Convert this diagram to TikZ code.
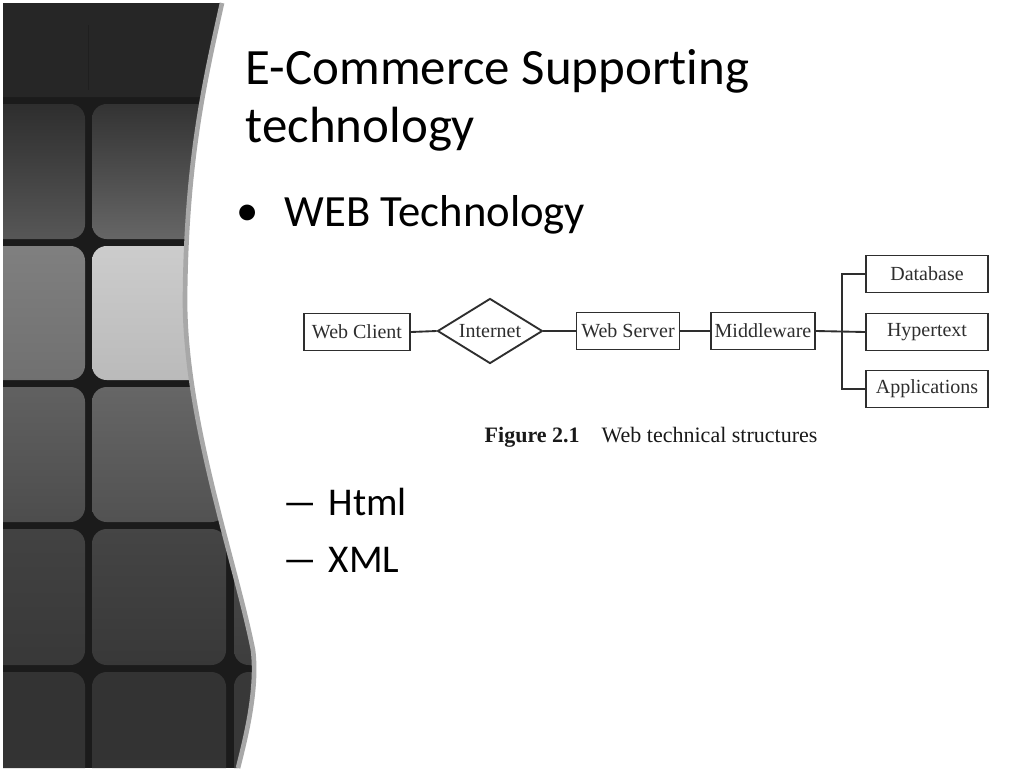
\documentclass[tikz,border=0pt]{standalone}
\usepackage{fontspec}
\setmainfont[Ligatures={NoCommon}]{Carlito}
\newfontfamily\timesfont{Liberation Serif}
\usetikzlibrary{shapes.geometric}
\newdimen\pxu \pxu=0.75pt
\definecolor{diag}{HTML}{2E2E2E}
\definecolor{gapc}{HTML}{1B1B1B}
\definecolor{rimc}{HTML}{A8A8A8}
\begin{document}
\begin{tikzpicture}[x=0.75pt,y=-0.75pt,
  dfont/.style={font=\timesfont\fontsize{15pt}{17pt}\selectfont, text=diag},
  box/.style={draw=diag, line width=1.4pt, minimum width=#1, minimum height=37\pxu, inner sep=0pt, dfont},
  conn/.style={draw=diag, line width=1.4pt},
  tile/.style={rounded corners=11pt},
  title/.style={anchor=base west, font=\fontsize{38.2pt}{45pt}\selectfont},
  body/.style={anchor=base west, font=\fontsize{33.5pt}{38pt}\selectfont},
  sub/.style={anchor=base west, font=\fontsize{29.5pt}{34pt}\selectfont}]
\useasboundingbox (0,0) rectangle (1024,768);
\fill[white] (0,0) rectangle (1024,768);
% left decorative panel
\def\panelpath{(3,3) -- (222,3) .. controls (205,80) and (186,160) .. (185,300) .. controls (185,420) and (235,560) .. (253,650) .. controls (258,690) and (245,740) .. (238,768) -- (3,768) -- cycle}
\begin{scope}
  \clip \panelpath;
  \fill[gapc] (0,0) rectangle (300,768);
  % row 0
  \fill[tile, color=black!85] (-40,-40) rectangle (300,97);
  \draw[black!88, line width=1pt] (88.5,25) -- (88.5,90);
  % row 1
  \shade[tile, top color=black!82, bottom color=black!66] (-40,104) rectangle (85,239);
  \shade[tile, top color=black!80, bottom color=black!60] (92,104) rectangle (226,239);
  % row 2
  \shade[tile, top color=black!50, bottom color=black!56] (-40,246) rectangle (85,380);
  \shade[tile, top color=black!20, bottom color=black!27] (92,246) rectangle (226,380);
  % row 3
  \shade[tile, top color=black!62, bottom color=black!70] (-40,387) rectangle (85,522);
  \shade[tile, top color=black!60, bottom color=black!68] (92,387) rectangle (226,522);
  \shade[tile, top color=black!62, bottom color=black!70] (234,387) rectangle (370,522);
  % row 4
  \shade[tile, top color=black!74, bottom color=black!78] (-40,529) rectangle (85,665);
  \shade[tile, top color=black!73, bottom color=black!78] (92,529) rectangle (226,665);
  \shade[tile, top color=black!70, bottom color=black!76] (234,529) rectangle (370,665);
  % row 5
  \fill[tile, color=black!80] (-40,672) rectangle (85,810);
  \fill[tile, color=black!80] (92,672) rectangle (226,810);
  \fill[tile, color=black!78] (234,672) rectangle (370,810);
\end{scope}
\draw[rimc, line width=3.5pt] (222,3) .. controls (205,80) and (186,160) .. (185,300) .. controls (185,420) and (235,560) .. (253,650) .. controls (258,690) and (245,740) .. (238,768);
% texts
\node[title] (t1) at (241,84) {E-Commerce Supporting};
\node[title] (t2) at (241,142) {technology};
\node[body, anchor=base] (b1) at (248,225) {•};
\node[body] (b1t) at (280,226) {WEB Technology};
\node[sub, anchor=base] (s1) at (300,515) {\scalebox{1.9}[1]{–}};
\node[sub] (s1t) at (324,515) {Html};
\node[sub, anchor=base] (s2) at (300,572) {\scalebox{1.9}[1]{–}};
\node[sub] (s2t) at (324,572) {XML};
% diagram
\node[box=106\pxu] (wc) at (357,332) {Web Client};
\node[draw=diag, line width=1.4pt, diamond, aspect=1.6, minimum width=105\pxu, minimum height=65\pxu, inner sep=0pt, dfont] (in) at (490,331) {Internet};
\node[box=103\pxu] (ws) at (628,331) {Web Server};
\node[box=104\pxu] (mw) at (763,331) {Middleware};
\node[box=122\pxu] (db) at (927,274) {Database};
\node[box=122\pxu] (hy) at (927,332) {Hypertext};
\node[box=122\pxu] (ap) at (927,389) {Applications};
\coordinate (br) at (842,331);
\draw[conn] (wc.east) -- (in.west);
\draw[conn] (in.east) -- (ws.west);
\draw[conn] (ws.east) -- (mw.west);
\draw[conn] (mw.east) -- (hy.west);
\draw[conn] (db.west) -- (db.west -| br) -- (ap.west -| br) -- (ap.west);
\node[anchor=base west, font=\timesfont\fontsize{16.5pt}{18pt}\selectfont, text=black!90] (cap1) at (480,442) {\textbf{Figure 2.1}};
\node[anchor=base west, font=\timesfont\fontsize{16.5pt}{18pt}\selectfont, text=black!90] (cap2) at (597,442) {Web technical structures};
\end{tikzpicture}
\end{document}
